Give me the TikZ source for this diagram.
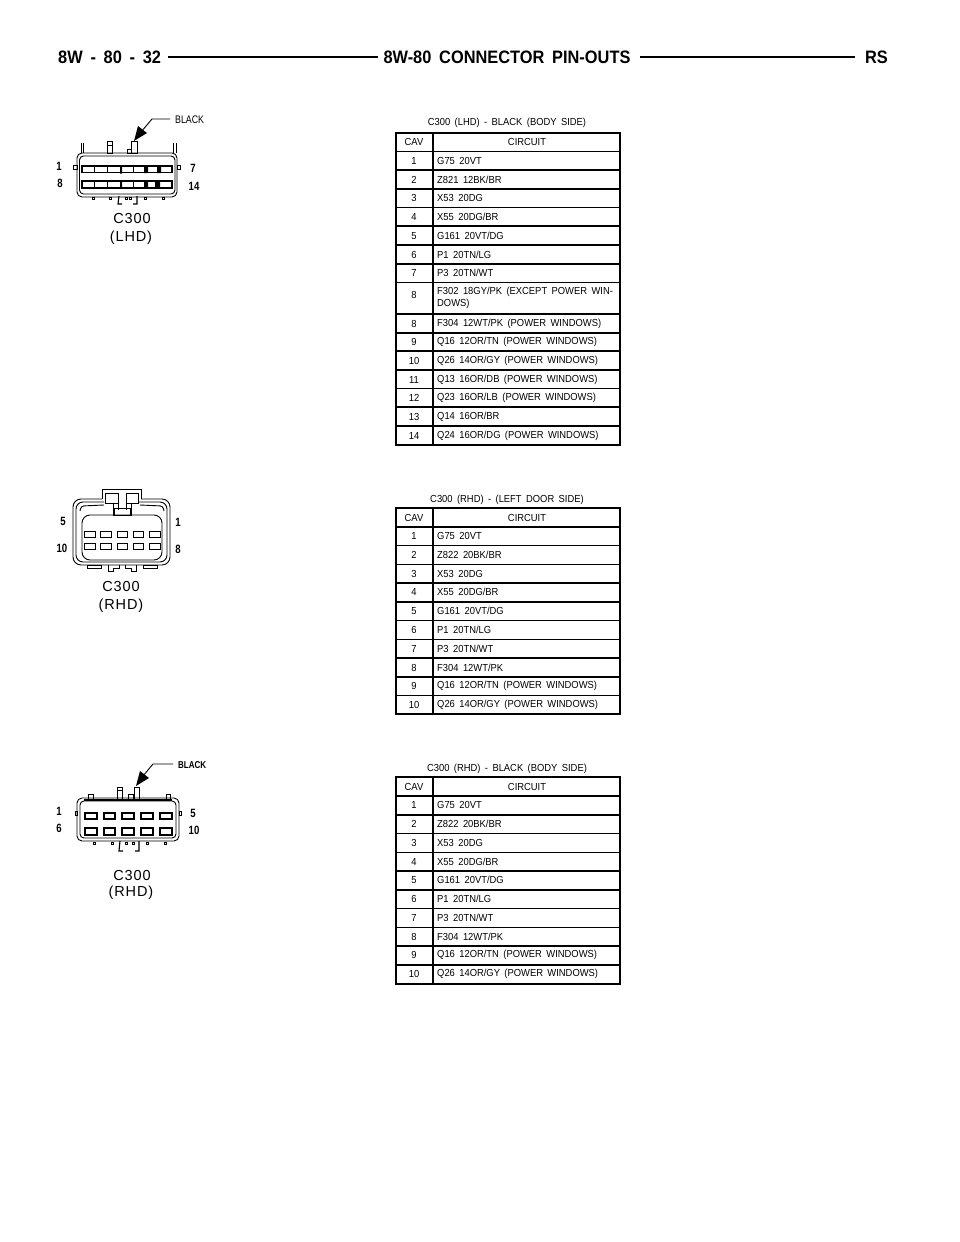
\documentclass[tikz,border=0pt]{standalone}
\usepackage{fontspec}
\setmainfont{Liberation Sans}
\newfontfamily\chartfont[FakeStretch=0.92,WordSpace=1.7]{Liberation Sans}
\newfontfamily\headfont[FakeStretch=0.91,WordSpace=1.7]{Liberation Sans}
\newfontfamily\pinfont[FakeStretch=0.8]{Liberation Sans}
\newfontfamily\plugfont[LetterSpace=6]{Liberation Sans}
\tikzset{
    rowtext/.style={inner sep=0pt, anchor=west, font=\chartfont\fontsize{10.2}{11.6}\selectfont, align=left},
    cavtext/.style={inner sep=0pt, font=\chartfont\fontsize{10.2}{11.6}\selectfont},
    headtext/.style={inner sep=0pt, font=\headfont\bfseries\fontsize{18}{20}\selectfont},
    pintext/.style={inner sep=0pt, font=\pinfont\bfseries\fontsize{12}{13}\selectfont},
    plugtext/.style={inner sep=0pt, font=\plugfont\fontsize{14.5}{16}\selectfont},
    gridline/.style={line width=1.6pt},
    plugline/.style={line width=0.9pt},
    cavity/.style={draw, line width=1.1pt, fill=white}
}
\begin{document}
\begin{tikzpicture}[x=1pt,y=-1pt]
    \useasboundingbox (0,0) rectangle (960,1242);
    % page header
    \node[headtext, anchor=west] (pagenum) at (58,57) {8W - 80 - 32};
    \node[headtext] (pagetitle) at (507,57) {8W-80 CONNECTOR PIN-OUTS};
    \node[headtext, anchor=east] (pageside) at (888,57) {RS};
    \draw[line width=2.4pt] (168,57) -- (378,57);
    \draw[line width=2.4pt] (640,57) -- (855,57);

    % C300 LHD table
    \node[cavtext] (lhdtitle) at (507,122.5) {C300 (LHD) - BLACK (BODY SIDE)};
    \draw[gridline] (396,133) rectangle (620,445);
    \draw[gridline] (433,133) -- (433,445);
    \foreach \y in {151.5,170,189,207.5,226,245,264,282.5,314,333,351,370,388.5,407,426}
        \draw[gridline] (396,\y) -- (620,\y);
    \node[cavtext] (lhdcav) at (414,142) {CAV};
    \node[cavtext] (lhdcircuit) at (527,142) {CIRCUIT};
    \foreach \y/\cav/\wire in {
        161/1/{G75 20VT},
        180/2/{Z821 12BK/BR},
        198/3/{X53 20DG},
        217/4/{X55 20DG/BR},
        236/5/{G161 20VT/DG},
        255/6/{P1 20TN/LG},
        273/7/{P3 20TN/WT},
        298/8/{F302 18GY/PK (EXCEPT POWER WIN-\\DOWS)},
        324/8/{F304 12WT/PK (POWER WINDOWS)},
        342/9/{Q16 12OR/TN (POWER WINDOWS)},
        361/10/{Q26 14OR/GY (POWER WINDOWS)},
        380/11/{Q13 16OR/DB (POWER WINDOWS)},
        398/12/{Q23 16OR/LB (POWER WINDOWS)},
        417/13/{Q14 16OR/BR},
        436/14/{Q24 16OR/DG (POWER WINDOWS)}}
    {
        \node[cavtext] (lhdcav\y) at (414,\y) {\ifdim\y pt=298pt\raisebox{5.8pt}{\cav}\else\cav\fi};
        \node[rowtext] (lhdwire\y) at (437,\y) {\wire};
    }

    % C300 RHD door side table
    \node[cavtext] (doortitle) at (507,499.5) {C300 (RHD) - (LEFT DOOR SIDE)};
    \draw[gridline] (396,508) rectangle (620,714);
    \draw[gridline] (433,508) -- (433,714);
    \foreach \y in {527,545.5,564.5,583,602,620.5,639.5,658,677,695.5}
        \draw[gridline] (396,\y) -- (620,\y);
    \node[cavtext] (doorcav) at (414,518) {CAV};
    \node[cavtext] (doorcircuit) at (527,518) {CIRCUIT};
    \foreach \y/\cav/\wire in {
        536/1/{G75 20VT},
        555/2/{Z822 20BK/BR},
        574/3/{X53 20DG},
        592/4/{X55 20DG/BR},
        611/5/{G161 20VT/DG},
        630/6/{P1 20TN/LG},
        649/7/{P3 20TN/WT},
        668/8/{F304 12WT/PK},
        686/9/{Q16 12OR/TN (POWER WINDOWS)},
        705/10/{Q26 14OR/GY (POWER WINDOWS)}}
    {
        \node[cavtext] (doorcav\y) at (414,\y) {\cav};
        \node[rowtext] (doorwire\y) at (437,\y) {\wire};
    }

    % C300 RHD body side table
    \node[cavtext] (bodytitle) at (507,768.5) {C300 (RHD) - BLACK (BODY SIDE)};
    \draw[gridline] (396,777) rectangle (620,984);
    \draw[gridline] (433,777) -- (433,984);
    \foreach \y in {796,815,833.5,852.5,871,890,908.5,927.5,946,965}
        \draw[gridline] (396,\y) -- (620,\y);
    \node[cavtext] (bodycav) at (414,787) {CAV};
    \node[cavtext] (bodycircuit) at (527,787) {CIRCUIT};
    \foreach \y/\cav/\wire in {
        805/1/{G75 20VT},
        824/2/{Z822 20BK/BR},
        843/3/{X53 20DG},
        862/4/{X55 20DG/BR},
        880/5/{G161 20VT/DG},
        899/6/{P1 20TN/LG},
        918/7/{P3 20TN/WT},
        937/8/{F304 12WT/PK},
        955/9/{Q16 12OR/TN (POWER WINDOWS)},
        974/10/{Q26 14OR/GY (POWER WINDOWS)}}
    {
        \node[cavtext] (bodycav\y) at (414,\y) {\cav};
        \node[rowtext] (bodywire\y) at (437,\y) {\wire};
    }

    % first connector (14 way)
    \begin{scope}[plugline]
        \draw[rounded corners=5pt] (77,153) rectangle (177,197);
        \draw[rounded corners=4pt] (79.5,156) rectangle (175,194);
        \draw (81,143) -- (81,153) (83.5,143) -- (83.5,153);
        \draw (173,143) -- (173,153) (176,143) -- (176,153);
        \draw (107,141) rectangle (112,153);
        \draw (107,145) -- (112,145);
        \draw (127,149) rectangle (131,153);
        \draw (131,141) rectangle (137,153);
        \draw (73,165) rectangle (77,169) (177,165) rectangle (180,169);
        \foreach \x in {92,109,144,162}
            \draw (\x,197) rectangle ++(2.5,2.5);
        \draw[line width=1.1pt] (119,196) -- (118,204) -- (122,204) (137,196) -- (137,204) -- (133,204);
        \draw (125,197) rectangle (127,199.5) (129,197) rectangle (131,199.5);
    \end{scope}
    \foreach \i in {0,...,6} {
        \draw[cavity] (82+\i*12.9,166) rectangle ++(12.6,6.8);
        \draw[cavity] (82+\i*12.9,181) rectangle ++(12.6,7);
    }
    \fill (144,166) rectangle (148,173) (144,181) rectangle (148,188);
    \fill (157,166) rectangle (161,173) (155,181) rectangle (160,188);
    \fill (120,165.5) rectangle (122,173.5) (120,181) rectangle (122,188);
    \coordinate (lhdbend) at (152,119);
    \coordinate (lhdtip) at (134,141);
    \node[inner sep=0pt, font=\pinfont\fontsize{11}{12}\selectfont, anchor=west] (lhdblack) at (175,120) {BLACK};
    \draw[line width=0.9pt] (lhdblack.west)+(-5,-1) -- (lhdbend) -- (141,132);
    \fill (lhdtip) -- (138,126) -- (147,133) -- cycle;
    \node[pintext] (lhdpin1) at (59,166) {1};
    \node[pintext] (lhdpin8) at (60,183) {8};
    \node[pintext] (lhdpin7) at (193,168) {7};
    \node[pintext] (lhdpin14) at (194,186) {14};
    \node[plugtext] (lhdname) at (132,219) {C300};
    \node[plugtext] (lhdside) at (131,238) {(LHD)};

    % second connector (10 way, door side)
    \begin{scope}[plugline]
        \draw[rounded corners=8pt] (102,499) -- (73,499) -- (73,565) -- (170,565) -- (170,499) -- (141,499);
        \draw (141,499) -- (141,489) -- (102,489) -- (102,499);
        \draw[rounded corners=7pt] (104,502) -- (76,502) -- (76,562) -- (167,562) -- (167,502) -- (139,502);
        \draw[rounded corners=8pt] (82,515) rectangle (162,560);
        \draw (105,493) rectangle (118,503) (126,493) rectangle (138,503);
        \draw (113,503) -- (113,516) (131,503) -- (131,516) (118,503) -- (118,510) (126,503) -- (126,510);
        \draw (114,508) rectangle (130,515);
        \draw[rounded corners=3pt] (80,511) -- (81,506) -- (104,505);
        \draw[rounded corners=3pt] (164,511) -- (163,506) -- (140,505);
        \draw (87,565) rectangle (101,568) (143,565) rectangle (157,568);
        \draw (108,565) -- (108,571) -- (113,571) -- (113,568) -- (119,568) -- (119,565);
        \draw (136,565) -- (136,571) -- (131,571) -- (131,568) -- (125,568) -- (125,565);
    \end{scope}
    \foreach \x in {84.5,100.5,117,133,149.5} {
        \draw[plugline, fill=white] (\x,531) rectangle ++(10.5,6);
        \draw[plugline, fill=white] (\x,543) rectangle ++(10.5,6);
    }
    \node[pintext] (doorpin5) at (63,521) {5};
    \node[pintext] (doorpin1) at (178,522) {1};
    \node[pintext] (doorpin10) at (62,548) {10};
    \node[pintext] (doorpin8) at (178,549) {8};
    \node[plugtext] (doorname) at (121,587) {C300};
    \node[plugtext] (doorside) at (121,606) {(RHD)};

    % third connector (10 way, body side)
    \begin{scope}[plugline]
        \draw[rounded corners=5pt] (77,798) rectangle (179,841);
        \draw[rounded corners=4pt] (80,801) rectangle (176,838);
        \draw[line width=2.6pt] (84,800) -- (172,800);
        \draw (117,787) rectangle (122,799) (117,790) -- (122,790);
        \draw (134,787) rectangle (139,799);
        \draw (128,794) rectangle (133,799);
        \draw (88,794) rectangle (93,799) (166,794) rectangle (170,799);
        \draw (75,811) rectangle (77,815) (179,811) rectangle (181,815);
        \foreach \x in {93,111,146,164}
            \draw (\x,842) rectangle ++(2,2);
        \draw[line width=1.1pt] (120,841) -- (119,851) -- (123,851) (139,841) -- (139,851) -- (135,851);
        \draw (125,842) rectangle (127,844) (132,842) rectangle (134,844);
    \end{scope}
    \foreach \x in {85,103.5,122,141,160} {
        \draw[cavity, line width=2pt] (\x,812.5) rectangle ++(11.5,6.5);
        \draw[cavity, line width=2pt] (\x,828) rectangle ++(11.5,6.5);
    }
    \coordinate (bodybend) at (153,764);
    \coordinate (bodytip) at (136,786);
    \node[inner sep=0pt, font=\pinfont\bfseries\fontsize{10}{11}\selectfont, anchor=west] (bodyblack) at (178,765) {BLACK};
    \draw[line width=0.9pt] (bodyblack.west)+(-5,-1) -- (bodybend) -- (143,776);
    \fill (bodytip) -- (140,771) -- (149,778) -- cycle;
    \node[pintext] (bodypin1) at (59,811) {1};
    \node[pintext] (bodypin6) at (59,828) {6};
    \node[pintext] (bodypin5) at (193,813) {5};
    \node[pintext] (bodypin10) at (194,830) {10};
    \node[plugtext] (bodyname) at (132,875) {C300};
    \node[plugtext] (bodyside) at (131,893) {(RHD)};
\end{tikzpicture}
\end{document}
